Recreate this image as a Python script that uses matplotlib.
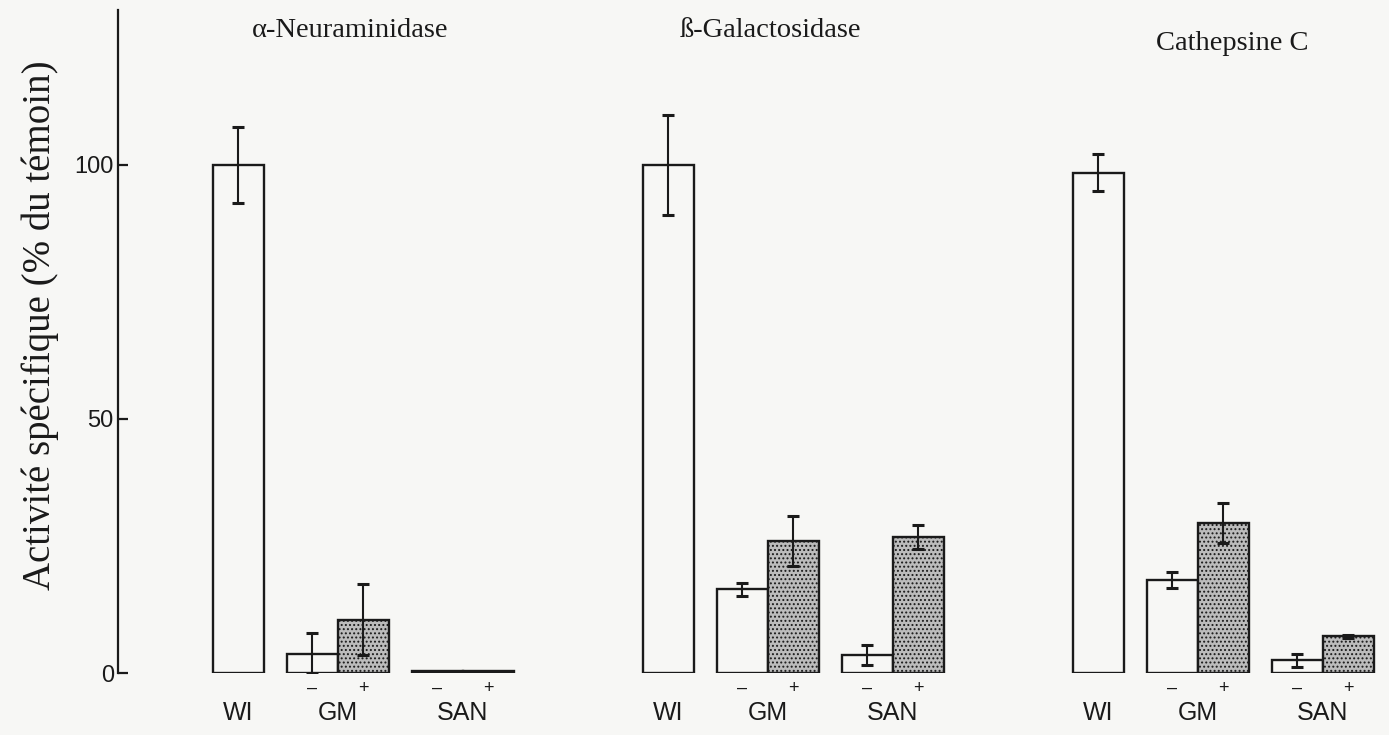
import matplotlib
matplotlib.use("Agg")
import matplotlib.pyplot as plt
import numpy as np

# Activité spécifique des enzymes lysosomales (% du témoin)
enzymes = ["α-Neuraminidase", "ß-Galactosidase", "Cathepsine C"]

wi_vals = [100.0, 100.0, 98.5]
wi_err = [7.5, 9.8, 3.7]

gm_minus = [3.8, 16.5, 18.3]
gm_minus_err = [4.0, 1.3, 1.5]
gm_plus = [10.5, 26.0, 29.5]
gm_plus_err = [7.0, 5.0, 4.0]

san_minus = [0.3, 3.5, 2.5]
san_minus_err = [0.0, 2.0, 1.3]
san_plus = [0.3, 26.8, 7.2]
san_plus_err = [0.0, 2.4, 0.3]

y_ticks = [0, 50, 100]
sign_labels = ["–", "+"]
group_labels = ["WI", "GM", "SAN"]

# layout (x in bar-width units)
BW = 1.0
GROUP_STEP = 8.43
FIRST = 2.36
OFFS = [0.0, 1.45, 2.45, 3.9, 4.9]
TITLE_OFFS = [2.19, 2.0, 2.62]
TITLE_Y = [126.5, 126.5, 124.0]

plt.rcParams["hatch.linewidth"] = 0.9

fig = plt.figure(figsize=(13.89, 7.35), dpi=100)
bg = "#f7f7f5"
fig.patch.set_facecolor(bg)
ax = fig.add_axes([118 / 1389, 62 / 735, 1 - 118 / 1389, (735 - 62 - 10) / 735])
ax.set_facecolor("none")

ax.set_xlim(0, (1389 - 118) / 51)
ax.set_ylim(0, 130.5)

edge = "#1a1a1a"
lw = 1.7
sans = "Liberation Sans"
serif = "Liberation Serif"

for g in range(3):
    base = FIRST + g * GROUP_STEP
    xs = [base + o for o in OFFS]
    vals = [wi_vals[g], gm_minus[g], gm_plus[g], san_minus[g], san_plus[g]]
    errs = [wi_err[g], gm_minus_err[g], gm_plus_err[g], san_minus_err[g], san_plus_err[g]]
    shaded = [False, False, True, False, True]
    for x, v, e, s in zip(xs, vals, errs, shaded):
        if s:
            ax.bar(x, v, width=BW, facecolor="#bcbcbc", edgecolor=edge,
                   linewidth=lw, hatch="....", zorder=2)
        else:
            ax.bar(x, v, width=BW, facecolor="none", edgecolor=edge,
                   linewidth=lw, zorder=2)
        if e > 0:
            ax.errorbar(x, v, yerr=e, fmt="none", ecolor=edge, elinewidth=1.5,
                        capsize=4.5, capthick=2.2, zorder=3)
    # +/- signs under the treated pairs
    for i, lab in zip([1, 2, 3, 4], sign_labels * 2):
        ax.text(xs[i], -3.0, lab, ha="center", va="center", fontsize=13,
                family=sans, color=edge, clip_on=False)
    # group labels
    for cx, lab in zip([xs[0], (xs[1] + xs[2]) / 2, (xs[3] + xs[4]) / 2], group_labels):
        ax.text(cx, -7.8, lab, ha="center", va="center", fontsize=18,
                family=sans, color=edge, clip_on=False)
    ax.text(base + TITLE_OFFS[g], TITLE_Y[g], enzymes[g], ha="center", va="center",
            fontsize=20.5, family=serif, color=edge, clip_on=False)

for side in ["top", "right", "bottom"]:
    ax.spines[side].set_visible(False)
ax.spines["left"].set_linewidth(1.6)
ax.spines["left"].set_color(edge)
ax.set_xticks([])
ax.set_yticks(y_ticks)
ax.set_yticklabels([str(t) for t in y_ticks], family=sans, fontsize=17, color=edge)
ax.tick_params(axis="y", direction="in", length=7, width=1.6, pad=3, color=edge)

fig.text(40 / 1389, 1 - 325 / 735, "Activité spécifique (% du témoin)",
         rotation=90, ha="center", va="center", fontsize=28, family=serif, color=edge)

fig.savefig("out.png", dpi=100, facecolor=bg)
